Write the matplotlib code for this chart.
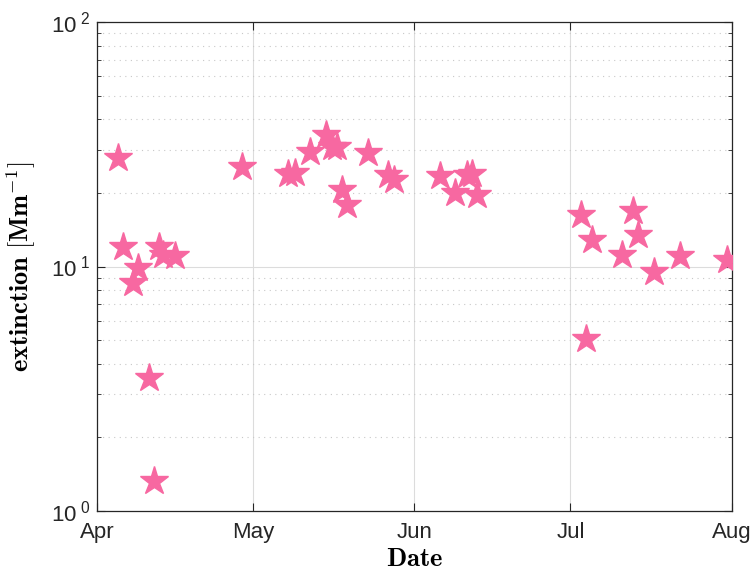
import math

import matplotlib
matplotlib.use("Agg")
import matplotlib.pyplot as plt
import matplotlib.dates as mdates
import matplotlib.ticker as mticker
import pandas as pd

# sampling times and measured extinction [Mm^-1]
dates = [
    "2018-04-05 00:00", "2018-04-06 00:00", "2018-04-07 21:00", "2018-04-08 21:00",
    "2018-04-10 23:00", "2018-04-12 00:00", "2018-04-12 22:00", "2018-04-13 17:00",
    "2018-04-16 00:00", "2018-04-28 22:00", "2018-05-07 19:00", "2018-05-09 02:00",
    "2018-05-11 23:00", "2018-05-15 00:00", "2018-05-16 02:00", "2018-05-17 02:00",
    "2018-05-18 00:00", "2018-05-19 00:00", "2018-05-23 00:00", "2018-05-27 00:00",
    "2018-05-28 00:00", "2018-06-06 00:00", "2018-06-08 19:00", "2018-06-11 02:00",
    "2018-06-12 00:00", "2018-06-13 00:00", "2018-07-03 00:00", "2018-07-04 00:00",
    "2018-07-05 02:00", "2018-07-11 00:00", "2018-07-13 02:00", "2018-07-14 02:00",
    "2018-07-17 02:00", "2018-07-22 02:00", "2018-07-31 02:00",
]
extinction = [
    27.8, 12.0, 8.6, 9.9, 3.5, 1.33, 12.0, 11.1, 11.0, 25.5,
    24.0, 24.2, 29.5, 34.5, 30.9, 30.7, 20.5, 17.8, 29.0, 23.7,
    22.6, 23.4, 19.9, 23.7, 24.0, 19.6, 16.2, 5.04, 12.8, 11.1,
    16.8, 13.5, 9.47, 11.0, 10.6,
]
month_ticks = ["2018-04-01", "2018-05-01", "2018-06-01", "2018-07-01", "2018-08-01"]

plt.rcParams["font.family"] = ["Liberation Sans", "DejaVu Sans"]
plt.rcParams["mathtext.fontset"] = "custom"
plt.rcParams["mathtext.rm"] = "Liberation Sans"
plt.rcParams["mathtext.it"] = "Liberation Sans:italic"

fig = plt.figure(figsize=(7.51, 5.73), dpi=100)
ax = fig.add_axes([0.1292, 0.1082, 0.8451, 0.8534])

t = pd.to_datetime(dates)
ax.plot(t, extinction, ls="none", marker="*", ms=21, color="#f768a1",
        mec="#f768a1", zorder=3)

ax.set_yscale("log")
ax.set_ylim(1, 100)
ticks = pd.to_datetime(month_ticks)
ax.set_xlim(ticks[0], ticks[-1])
ax.set_xticks(ticks)
ax.xaxis.set_major_formatter(mdates.DateFormatter("%b"))
ax.yaxis.set_major_formatter(mticker.FuncFormatter(
    lambda v, _: r"$10^{\,\,%d}$" % round(math.log10(v))))
ax.yaxis.set_minor_formatter(mticker.NullFormatter())

ax.grid(True, which="major", color="#dcdcdc", lw=0.8, zorder=0)
ax.grid(True, which="minor", axis="y", color="#c8c8c8", lw=0.8, ls=(0, (1, 4)), zorder=0)
ax.tick_params(which="both", direction="in", top=True, right=True,
               labelsize=16, colors="#262626")
ax.tick_params(axis="x", pad=8)
ax.tick_params(axis="y", pad=5)
ax.tick_params(which="major", length=6)
ax.tick_params(which="minor", length=3)
for s in ax.spines.values():
    s.set_color("#262626")
    s.set_linewidth(0.9)

ax.set_xlabel(r"$\mathbf{Date}$", fontsize=19, math_fontfamily="cm", labelpad=3)
ax.set_ylabel(r"$\mathbf{extinction\ [Mm^{-1}]}$", fontsize=19, math_fontfamily="cm",
              labelpad=9)

fig.savefig("out.png", dpi=100)
